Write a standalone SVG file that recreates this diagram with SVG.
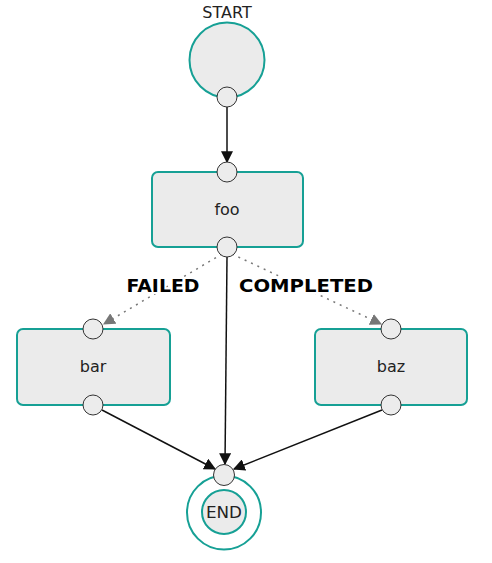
<svg xmlns="http://www.w3.org/2000/svg" width="492" height="563" viewBox="0 0 492 563">
<defs>
<style>
.node{fill:#ebebeb;stroke:#16a095;stroke-width:2}
.port{fill:#ececec;stroke:#333;stroke-width:1}
.lbl{font-family:"DejaVu Sans","Liberation Sans",sans-serif;font-size:16px;fill:#222;text-anchor:middle}
.edge{fill:none;stroke:#111;stroke-width:1.5}
.dash{fill:none;stroke:#777;stroke-width:1.5;stroke-dasharray:2 5}
.elbl{font-family:"DejaVu Sans","Liberation Sans",sans-serif;font-size:18px;font-weight:bold;fill:#000;text-anchor:middle;stroke:#fff;stroke-width:4;paint-order:stroke;stroke-linejoin:round}
</style>
<marker id="ah" viewBox="0 0 10 10" refX="9" refY="5" markerWidth="8" markerHeight="8" markerUnits="strokeWidth" orient="auto"><path d="M0,0 L10,5 L0,10 z" fill="#111"/></marker>
<marker id="ahg" viewBox="0 0 10 10" refX="9" refY="5" markerWidth="8" markerHeight="8" markerUnits="strokeWidth" orient="auto"><path d="M0,0 L10,5 L0,10 z" fill="#777"/></marker>
</defs>
<rect width="492" height="563" fill="#fff"/>
<g id="edges">
<line class="edge" x1="227" y1="107" x2="227" y2="162" marker-end="url(#ah)"/>
<line class="dash" x1="222" y1="254" x2="104" y2="324" marker-end="url(#ahg)"/>
<line class="dash" x1="232" y1="254" x2="381" y2="324" marker-end="url(#ahg)"/>
<line class="edge" x1="227" y1="257" x2="225" y2="464" marker-end="url(#ah)"/>
<line class="edge" x1="102" y1="410" x2="215" y2="469" marker-end="url(#ah)"/>
<line class="edge" x1="382" y1="410" x2="234" y2="469" marker-end="url(#ah)"/>
<text class="elbl" x="163" y="292" textLength="73" lengthAdjust="spacingAndGlyphs">FAILED</text>
<text class="elbl" x="306" y="292" textLength="134" lengthAdjust="spacingAndGlyphs">COMPLETED</text>
</g>
<g id="start">
<text class="lbl" x="227" y="18">START</text>
<circle class="node" cx="227" cy="60" r="37.5"/>
<circle class="port" cx="227" cy="97" r="10"/>
</g>
<g id="foo">
<rect class="node" x="152" y="172" width="151" height="75" rx="6"/>
<text class="lbl" x="227" y="215">foo</text>
<circle class="port" cx="227" cy="172" r="10"/>
<circle class="port" cx="227" cy="247" r="10"/>
</g>
<g id="bar">
<rect class="node" x="17" y="329" width="153" height="76" rx="6"/>
<text class="lbl" x="93" y="372">bar</text>
<circle class="port" cx="93" cy="329" r="10"/>
<circle class="port" cx="93" cy="405" r="10"/>
</g>
<g id="baz">
<rect class="node" x="315" y="329" width="152" height="76" rx="6"/>
<text class="lbl" x="391" y="372">baz</text>
<circle class="port" cx="391" cy="329" r="10"/>
<circle class="port" cx="391" cy="405" r="10"/>
</g>
<g id="end">
<circle cx="224" cy="512.5" r="37" fill="#fff" stroke="#16a095" stroke-width="2"/>
<circle class="node" cx="224" cy="512" r="22"/>
<text class="lbl" x="224" y="518" textLength="36" lengthAdjust="spacingAndGlyphs">END</text>
<circle class="port" cx="224" cy="475" r="10.5"/>
</g>
</svg>
